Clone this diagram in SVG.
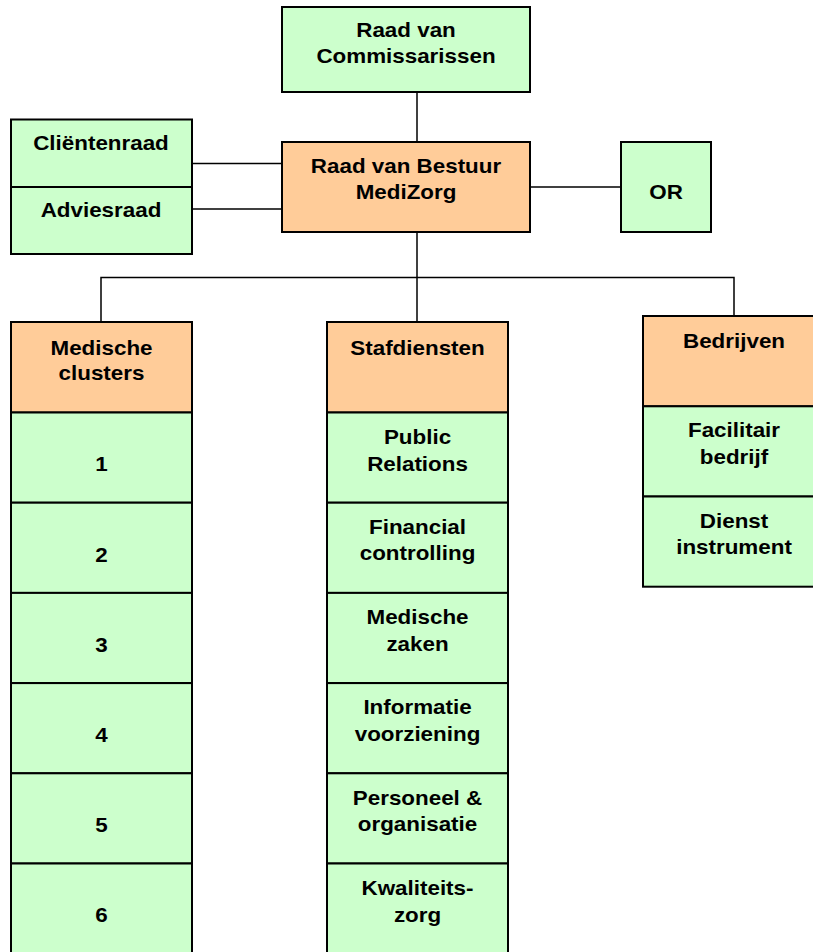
<svg xmlns="http://www.w3.org/2000/svg" width="813" height="952" viewBox="0 0 813 952">
<style>
.g{fill:#CCFFCC;stroke:#000;stroke-width:2}
.o{fill:#FFCC99;stroke:#000;stroke-width:2}
.t{font-family:"Liberation Sans",Arial,sans-serif;font-weight:bold;font-size:20px;fill:#000;text-anchor:middle}
.c{stroke:#000;stroke-width:1.5;fill:none}
</style>
<rect width="813" height="952" fill="#fff"/>
<g id="connectors">
<line class="c" x1="417" y1="92" x2="417" y2="142"/>
<line class="c" x1="192" y1="163.5" x2="282" y2="163.5"/>
<line class="c" x1="192" y1="209" x2="282" y2="209"/>
<line class="c" x1="530" y1="187" x2="621" y2="187"/>
<line class="c" x1="417" y1="232" x2="417" y2="322"/>
<polyline class="c" points="101,322 101,277.5 734,277.5 734,316"/>
</g>
<g id="rvc">
<rect class="g" x="282" y="7" width="248" height="85"/>
<text class="t" transform="translate(406 37) scale(1.12 1)"><tspan x="0">Raad van</tspan><tspan x="0" dy="26.5">Commissarissen</tspan></text>
</g>
<g id="rvb">
<rect class="o" x="282" y="142" width="248" height="90"/>
<text class="t" transform="translate(406 173) scale(1.12 1)"><tspan x="0">Raad van Bestuur</tspan><tspan x="0" dy="26.5">MediZorg</tspan></text>
</g>
<g id="clientenraad">
<rect class="g" x="11" y="119.5" width="181" height="67.5"/>
<text class="t" transform="translate(101 149.5) scale(1.12 1)">Cliëntenraad</text>
</g>
<g id="adviesraad">
<rect class="g" x="11" y="187" width="181" height="67"/>
<text class="t" transform="translate(101 216.5) scale(1.12 1)">Adviesraad</text>
</g>
<g id="or">
<rect class="g" x="621" y="142" width="90" height="90"/>
<text class="t" transform="translate(666 199) scale(1.12 1)">OR</text>
</g>
<g id="medische-clusters">
<rect class="o" x="11" y="322" width="181" height="90.5"/>
<text class="t" transform="translate(101.5 354.5) scale(1.12 1)"><tspan x="0">Medische</tspan><tspan x="0" dy="26">clusters</tspan></text>
</g>
<g id="cluster-1"><rect class="g" x="11" y="412.5" width="181" height="90.2"/><text class="t" transform="translate(101.5 471) scale(1.12 1)">1</text></g>
<g id="cluster-2"><rect class="g" x="11" y="502.7" width="181" height="90.2"/><text class="t" transform="translate(101.5 561.5) scale(1.12 1)">2</text></g>
<g id="cluster-3"><rect class="g" x="11" y="592.9" width="181" height="90.2"/><text class="t" transform="translate(101.5 651.5) scale(1.12 1)">3</text></g>
<g id="cluster-4"><rect class="g" x="11" y="683.1" width="181" height="90.2"/><text class="t" transform="translate(101.5 741.5) scale(1.12 1)">4</text></g>
<g id="cluster-5"><rect class="g" x="11" y="773.3" width="181" height="90.2"/><text class="t" transform="translate(101.5 832) scale(1.12 1)">5</text></g>
<g id="cluster-6"><rect class="g" x="11" y="863.5" width="181" height="92"/><text class="t" transform="translate(101.5 922) scale(1.12 1)">6</text></g>
<g id="stafdiensten">
<rect class="o" x="327" y="322" width="181" height="90.5"/>
<text class="t" transform="translate(417.5 354.5) scale(1.12 1)">Stafdiensten</text>
</g>
<g id="public-relations"><rect class="g" x="327" y="412.5" width="181" height="90.2"/><text class="t" transform="translate(417.5 444) scale(1.12 1)"><tspan x="0">Public</tspan><tspan x="0" dy="27">Relations</tspan></text></g>
<g id="financial-controlling"><rect class="g" x="327" y="502.7" width="181" height="90.2"/><text class="t" transform="translate(417.5 533.5) scale(1.12 1)"><tspan x="0">Financial</tspan><tspan x="0" dy="27">controlling</tspan></text></g>
<g id="medische-zaken"><rect class="g" x="327" y="592.9" width="181" height="90.2"/><text class="t" transform="translate(417.5 624) scale(1.12 1)"><tspan x="0">Medische</tspan><tspan x="0" dy="27">zaken</tspan></text></g>
<g id="informatie-voorziening"><rect class="g" x="327" y="683.1" width="181" height="90.2"/><text class="t" transform="translate(417.5 714) scale(1.12 1)"><tspan x="0">Informatie</tspan><tspan x="0" dy="27">voorziening</tspan></text></g>
<g id="personeel-organisatie"><rect class="g" x="327" y="773.3" width="181" height="90.2"/><text class="t" transform="translate(417.5 804.5) scale(1.12 1)"><tspan x="0">Personeel &amp;</tspan><tspan x="0" dy="27">organisatie</tspan></text></g>
<g id="kwaliteitszorg"><rect class="g" x="327" y="863.5" width="181" height="92"/><text class="t" transform="translate(417.5 895) scale(1.12 1)"><tspan x="0">Kwaliteits-</tspan><tspan x="0" dy="27">zorg</tspan></text></g>
<g id="bedrijven">
<rect class="o" x="643" y="316" width="182" height="90.3"/>
<text class="t" transform="translate(734 347.5) scale(1.12 1)">Bedrijven</text>
</g>
<g id="facilitair-bedrijf"><rect class="g" x="643" y="406.3" width="182" height="90.2"/><text class="t" transform="translate(734 437) scale(1.12 1)"><tspan x="0">Facilitair</tspan><tspan x="0" dy="27">bedrijf</tspan></text></g>
<g id="dienst-instrument"><rect class="g" x="643" y="496.5" width="182" height="90.2"/><text class="t" transform="translate(734 527.5) scale(1.12 1)"><tspan x="0">Dienst</tspan><tspan x="0" dy="27">instrument</tspan></text></g>
</svg>
